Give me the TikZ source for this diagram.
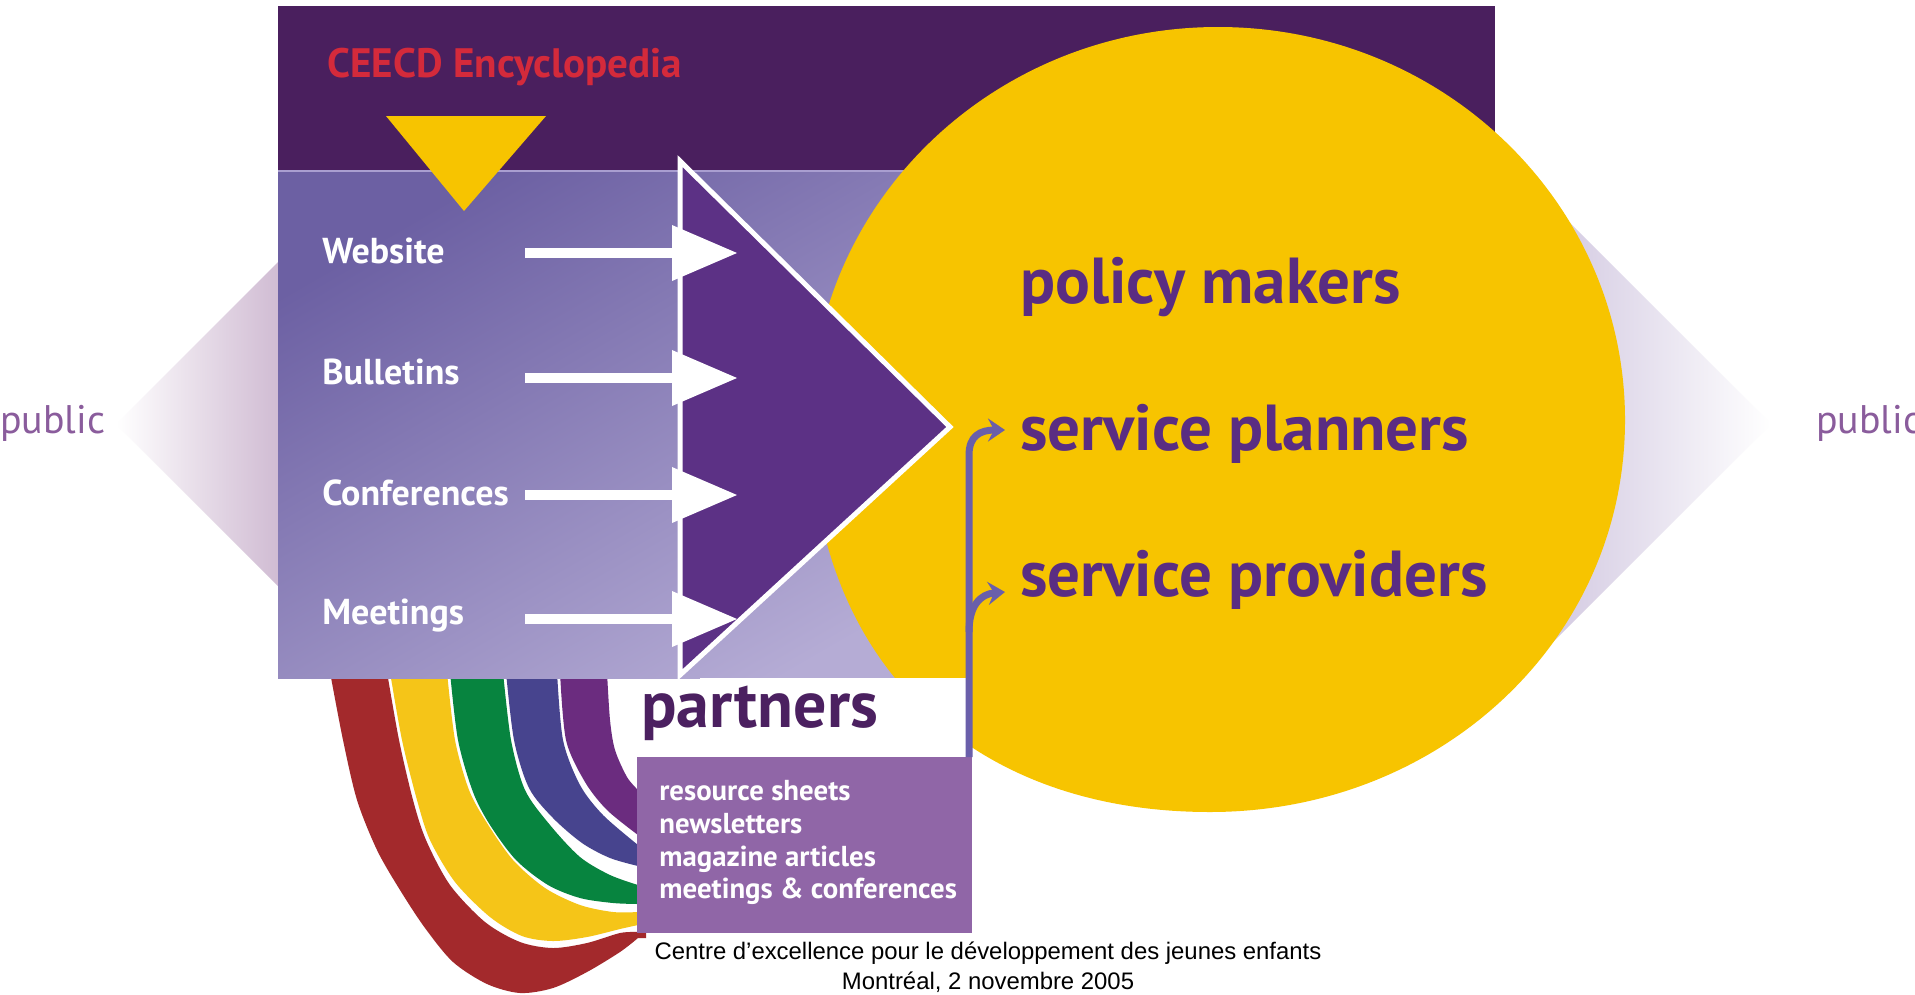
\documentclass[tikz,border=0pt]{standalone}
\usepackage{fontspec}
\setmainfont{PT Sans}
\newfontfamily\footfont{Liberation Sans}
\usetikzlibrary{arrows.meta}
\definecolor{darkband}{HTML}{4A1F5E}
\definecolor{lavtop}{HTML}{6C60A3}
\definecolor{lavbot}{HTML}{B5ACD5}
\definecolor{triviolet}{HTML}{5C3185}
\definecolor{gold}{HTML}{F7C400}
\definecolor{textpurple}{HTML}{5A2D82}
\definecolor{partnerpurple}{HTML}{4B2060}
\definecolor{boxmauve}{HTML}{9066A7}
\definecolor{hookblue}{HTML}{6A5FAA}
\definecolor{publicmauve}{HTML}{8A5C9C}
\definecolor{diamondmauve}{HTML}{CDB7D0}
\definecolor{diamondlav}{HTML}{BFB1D4}
\definecolor{ceecdred}{HTML}{D42A3B}
\definecolor{bandred}{HTML}{A3292C}
\definecolor{bandyellow}{HTML}{F5C518}
\definecolor{bandgreen}{HTML}{07843F}
\definecolor{bandblue}{HTML}{47448E}
\definecolor{bandpurple}{HTML}{6B2C7F}
\definecolor{seamline}{HTML}{A99ED0}
\begin{document}
\begin{tikzpicture}[x=0.02cm,y=-0.02cm,
  lbl/.style={anchor=base west, inner sep=0pt, text=white, font=\bfseries\fontsize{20.5}{24}\selectfont},
  target/.style={anchor=base west, inner sep=0pt, text=textpurple, font=\bfseries\fontsize{37}{44}\selectfont},
  plist/.style={anchor=base west, inner sep=0pt, text=white, font=\bfseries\fontsize{16.4}{19}\selectfont},
  pub/.style={anchor=base west, inner sep=0pt, text=publicmauve, font=\fontsize{22.7}{26}\selectfont},
  foot/.style={anchor=base, inner sep=0pt, text=black, font=\footfont\fontsize{13.6}{16}\selectfont},
  flowline/.style={white, line width=0.2cm},
  flowhead/.style={fill=white},
  hook/.style={hookblue, line width=0.14cm, -{Stealth[length=0.34cm,width=0.46cm,inset=0.12cm]}},
]
\useasboundingbox (0,0) rectangle (1915,994);
\fill[white] (0,0) rectangle (1915,994);

% public diamonds
\shade[left color=white, right color=diamondmauve] (116,424) -- (290,250) -- (290,598) -- cycle;
\shade[left color=diamondlav, right color=white] (1771,424) -- (1560,213) -- (1450,300) -- (1450,560) -- (1540,655) -- cycle;

% rainbow bands
\fill[bandred] plot[smooth] coordinates {(330,672) (343,740) (357,800) (377,850) (400,890) (425,928) (453,962) (487,984) (520,993) (553,988) (587,972) (620,952) (638,938)}
  -- (646,938) -- (646,932) -- plot[smooth] coordinates {(638,932) (620,933) (587,943) (553,948) (520,942) (485,922) (450,885) (426,840) (413,800) (399,740) (387,672)} -- cycle;
\fill[bandyellow] plot[smooth] coordinates {(390,672) (402,740) (417,800) (430,840) (455,882) (490,917) (522,936) (553,941) (587,937) (620,929) (638,925)}
  -- (646,925) -- (646,912) -- plot[smooth] coordinates {(638,912) (613,912) (580,905) (545,888) (513,860) (487,823) (469,790) (455,740) (447,672)} -- cycle;
\fill[bandgreen] plot[smooth] coordinates {(450,672) (458,740) (473,792) (490,825) (516,860) (548,885) (580,898) (613,903) (638,904)}
  -- (646,904) -- (646,885) -- plot[smooth] coordinates {(638,885) (610,875) (580,857) (550,825) (525,790) (511,740) (503,672)} -- cycle;
\fill[bandblue] plot[smooth] coordinates {(506,672) (514,740) (529,788) (553,818) (582,843) (610,858) (638,866)}
  -- (646,866) -- (646,845) -- plot[smooth] coordinates {(638,845) (603,815) (580,785) (563,740) (557,672)} -- cycle;
\fill[bandpurple] plot[smooth] coordinates {(560,672) (566,740) (585,782) (607,810) (638,835)}
  -- (646,835) -- (646,790) -- plot[smooth] coordinates {(638,790) (627,777) (615,750) (610,720) (607,672)} -- cycle;

% top band and lavender area
\fill[darkband] (278,6) rectangle (1495,172);
\shade[top color=lavtop, bottom color=lavbot, shading angle=30] (278,171) rectangle (1000,678);
\draw[seamline, line width=0.03cm] (278,171) -- (1000,171);

% yellow audience circle
\fill[gold] (1218,27) .. controls (1443,27) and (1625,203) .. (1625,420)
  .. controls (1625,640) and (1440,812) .. (1210,812)
  .. controls (960,812) and (811,650) .. (811,420)
  .. controls (811,203) and (993,27) .. (1218,27) -- cycle;
\fill[white] (700,678) rectangle (967,758);

% big triangle
\filldraw[fill=triviolet, draw=white, line width=0.1cm] (680,161) -- (950,427) -- (680,675) -- cycle;

% small yellow triangle
\fill[gold] (386,116) -- (546,116) -- (464,211) -- cycle;

% labels
\node[anchor=base west, inner sep=0pt, text=ceecdred, font=\bfseries\fontsize{23.4}{28}\selectfont] (ceecd) at (327,77) {CEECD Encyclopedia};
\node[lbl] (web) at (322,263) {Website};
\node[lbl] (bul) at (322,384) {Bulletins};
\node[lbl] (conf) at (322,505) {Conferences};
\node[lbl] (meet) at (322,624) {Meetings};

% white flow arrows
\foreach \yy/\nm in {253/a,378/b,495/c,619/d}{
  \coordinate (\nm s) at (525,\yy);
  \coordinate (\nm e) at (676,\yy);
  \draw[flowline] (\nm s) -- (\nm e);
  \fill[flowhead] (672,\yy-28) -- (737,\yy) -- (672,\yy+28) -- cycle;
}

% public
\node[pub] (publ) at (0,433) {public};
\node[pub] (pubr) at (1816,433) {public};

% audiences
\node[target] (policy) at (1020,303) {policy makers};
\node[target] (planners) at (1020,450) {service planners};
\node[target] (providers) at (1020,596) {service providers};

% partners
\node[anchor=base west, inner sep=0pt, text=partnerpurple, font=\bfseries\fontsize{37.5}{44}\selectfont] (partners) at (641,727) {partners};
\node[fill=boxmauve, inner sep=0pt, minimum width=6.7cm, minimum height=3.52cm, anchor=north west] (pbox) at (637,757) {};
\node[plist] (p1) at (659,800) {resource sheets};
\node[plist] (p2) at (659,833) {newsletters};
\node[plist] (p3) at (659,866) {magazine articles};
\node[plist] (p4) at (659,898) {meetings \& conferences};

% hooks to audiences
\coordinate (trunk) at (969,757);
\coordinate (hookA) at (1005,430);
\coordinate (hookB) at (1005,592);
\draw[hook] (trunk) -- (969,455) .. controls (969,436) and (980,430) .. (hookA);
\draw[hook] (969,632) .. controls (969,606) and (980,594) .. (hookB);

% footer
\node[foot] (f1) at (988,959) {Centre d’excellence pour le développement des jeunes enfants};
\node[foot] (f2) at (988,989) {Montréal, 2 novembre 2005};
\end{tikzpicture}
\end{document}
